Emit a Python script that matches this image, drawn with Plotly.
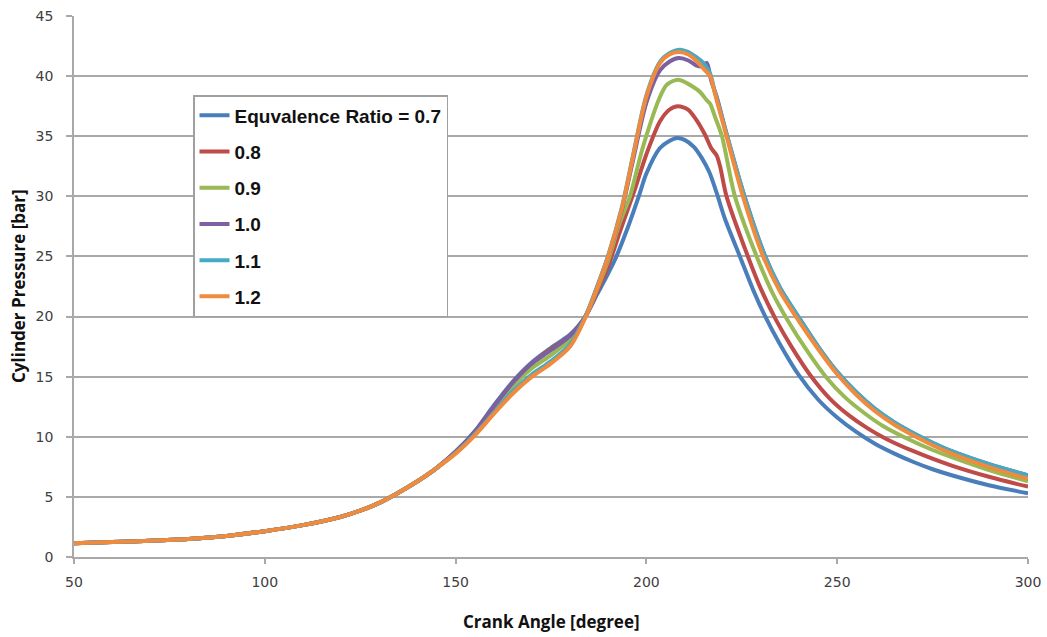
import plotly.graph_objects as go

# Compression stroke: all mixtures share the same pressure trace here
crank_common = [50, 60, 70, 80, 90, 100, 110, 120, 125, 130, 135, 140, 145]
pressure_common = [1.15, 1.25, 1.35, 1.5, 1.75, 2.15, 2.65, 3.35, 3.85, 4.5, 5.35, 6.3, 7.4]

# Combustion / expansion part, one pair of lists per equivalence ratio
crank_07 = [150, 155, 160, 165, 170, 175, 180, 184, 187, 190, 192, 195, 198, 200, 203.5, 206, 208,
            210, 212.5, 214.5, 216.5, 218.5, 220.5, 224.5, 228, 231, 235, 240, 245, 250, 255,
            260, 265, 270, 275, 280, 290, 300]
pressure_07 = [8.75, 10.45, 12.6, 14.6, 16.2, 17.4, 18.5, 20.0, 21.8, 23.6, 24.9, 27.3, 30.0, 31.9, 34.0,
               34.6, 34.85, 34.7, 34.1, 33.2, 32.0, 30.2, 28.2, 25.0, 22.2, 20.1, 17.7, 15.1, 13.1,
               11.6, 10.4, 9.4, 8.6, 7.9, 7.3, 6.8, 5.95, 5.3]

crank_08 = [150, 155, 160, 165, 170, 175, 180, 184, 187, 190, 193, 197, 200, 203.5, 206, 208.3, 211,
            213, 215.4, 217, 218.4, 219.3, 221, 226.6, 230, 234, 238, 243, 248, 253, 258, 263,
            270, 280, 290, 300]
pressure_08 = [8.75, 10.4, 12.5, 14.5, 16.1, 17.3, 18.4, 20.0, 22.0, 24.2, 27.0, 30.6, 33.5, 36.2, 37.2,
               37.5, 37.2, 36.4, 35.1, 34.0, 33.4, 32.5, 30.0, 25.0, 22.3, 19.7, 17.5, 15.1, 13.2,
               11.8, 10.7, 9.8, 8.8, 7.6, 6.65, 5.85]

crank_09 = [150, 155, 160, 165, 170, 175, 180, 184, 187, 190, 193, 195.7, 199, 203.6, 205.4, 208.4,
            212.3, 214, 215.8, 216.7, 218, 219.8, 223.2, 228.9, 233, 237, 242, 247, 252, 257,
            262, 268, 275, 280, 290, 300]
pressure_09 = [8.7, 10.3, 12.3, 14.2, 15.7, 16.8, 18.1, 20.0, 22.2, 24.7, 27.8, 30.0, 34.0, 38.3, 39.3,
               39.7, 39.1, 38.7, 38.0, 37.7, 36.6, 35.0, 30.0, 25.0, 22.0, 19.7, 17.2, 15.0, 13.3,
               12.0, 10.9, 9.9, 8.9, 8.3, 7.2, 6.3]

crank_10 = [150, 155, 160, 165, 170, 175, 180, 184, 187, 190, 193.5, 196.5, 200, 203.6, 206, 208.5,
            211, 213, 214.5, 215.8, 217, 218.5, 221, 225.5, 231, 235, 240, 245, 250, 255, 260,
            265, 270, 275, 280, 290, 300]
pressure_10 = [8.75, 10.4, 12.5, 14.5, 16.1, 17.2, 18.4, 20.0, 22.4, 25.0, 28.8, 33.0, 37.8, 40.5, 41.2,
               41.5, 41.3, 40.9, 40.8, 41.1, 39.6, 38.2, 35.2, 30.2, 25.1, 22.4, 19.9, 17.5, 15.4,
               13.7, 12.3, 11.2, 10.3, 9.5, 8.8, 7.7, 6.8]

crank_11 = [150, 155, 160, 165, 170, 175, 180, 184, 187, 190, 193.5, 196.5, 200, 203.6, 206, 208.8,
            211, 213, 214.9, 216.7, 218, 221, 225.5, 231, 235, 240, 245, 250, 255, 260, 265,
            270, 275, 280, 290, 300]
pressure_11 = [8.65, 10.2, 12.0, 13.8, 15.2, 16.3, 17.7, 20.0, 22.4, 25.1, 29.0, 33.4, 38.4, 41.2, 41.9,
               42.2, 42.0, 41.6, 41.1, 40.2, 38.6, 35.2, 30.2, 25.1, 22.4, 19.9, 17.5, 15.4, 13.7,
               12.3, 11.2, 10.3, 9.5, 8.8, 7.7, 6.8]

crank_12 = [150, 155, 160, 165, 170, 175, 180, 184, 187, 190, 193.5, 196.5, 200, 203.6, 206, 208.5,
            211, 213, 215, 216.7, 218, 221, 225.3, 230.6, 235, 240, 245, 250, 255, 260, 265,
            270, 275, 280, 290, 300]
pressure_12 = [8.6, 10.1, 11.9, 13.6, 15.0, 16.1, 17.5, 19.9, 22.3, 25.0, 28.9, 33.3, 38.3, 41.1, 41.8,
               42.0, 41.8, 41.3, 40.6, 40.0, 38.5, 35.0, 30.0, 25.0, 22.1, 19.6, 17.3, 15.2, 13.5,
               12.1, 11.0, 10.1, 9.3, 8.6, 7.45, 6.5]

series_names = ["Equvalence Ratio = 0.7", "0.8", "0.9", "1.0", "1.1", "1.2"]
series_colors = ["#4A7EBB", "#BE4B48", "#98B954", "#7D60A0", "#46AAC5", "#F08A3C"]

x_ticks = [50, 100, 150, 200, 250, 300]
y_ticks = [0, 5, 10, 15, 20, 25, 30, 35, 40, 45]

combustion = [
    (crank_07, pressure_07),
    (crank_08, pressure_08),
    (crank_09, pressure_09),
    (crank_10, pressure_10),
    (crank_11, pressure_11),
    (crank_12, pressure_12),
]

fig = go.Figure()
for i, ((cx, cy), name, color) in enumerate(zip(combustion, series_names, series_colors)):
    fig.add_trace(go.Scatter(
        x=crank_common + cx,
        y=pressure_common + cy,
        mode="lines",
        name=name,
        legendgroup=f"g{i}",
        line=dict(color=color, width=4, shape="spline", smoothing=0.8),
    ))

grid_color = "#A9A9A9"
tick_font = dict(family="DejaVu Sans", size=14, color="#404040")
title_font = dict(family="Open Sans", size=17, color="#111111", weight="bold")

fig.update_layout(
    width=1047,
    height=637,
    margin=dict(l=74, r=19, t=16, b=80),
    paper_bgcolor="white",
    plot_bgcolor="white",
    showlegend=True,
    legend=dict(
        x=(193 - 74) / 954,
        y=(557 - 95) / 541,
        xanchor="left",
        yanchor="top",
        bgcolor="white",
        bordercolor="#A0A0A0",
        borderwidth=1.5,
        font=dict(family="Liberation Sans", size=19, color="#111111", weight="bold"),
        tracegroupgap=8.5,
        traceorder="grouped",
        itemwidth=30,
    ),
    xaxis=dict(
        range=[50, 300],
        tickvals=x_ticks,
        ticks="outside",
        ticklen=5,
        tickcolor=grid_color,
        tickwidth=1.5,
        showline=True,
        linecolor=grid_color,
        linewidth=1.5,
        showgrid=False,
        zeroline=False,
        automargin=False,
        tickfont=tick_font,
        ticklabelstandoff=6,
    ),
    yaxis=dict(
        range=[0, 45],
        tickvals=y_ticks,
        ticks="outside",
        ticklen=6,
        tickcolor=grid_color,
        tickwidth=1.5,
        showline=True,
        linecolor=grid_color,
        linewidth=1.5,
        showgrid=True,
        gridcolor=grid_color,
        gridwidth=1.5,
        zeroline=False,
        automargin=False,
        tickfont=tick_font,
        ticklabelstandoff=10,
    ),
    annotations=[
        dict(text="Crank Angle [degree]", xref="paper", yref="paper",
             x=(551 - 74) / 954, y=-(621 - 557) / 541, xanchor="center", yanchor="middle",
             showarrow=False, font=title_font),
        dict(text="Cylinder Pressure [bar]", xref="paper", yref="paper",
             x=-(74 - 18) / 954, y=(557 - 286) / 541, xanchor="center", yanchor="middle",
             textangle=-90, showarrow=False, font=title_font),
    ],
)

fig.write_html("out.html")
